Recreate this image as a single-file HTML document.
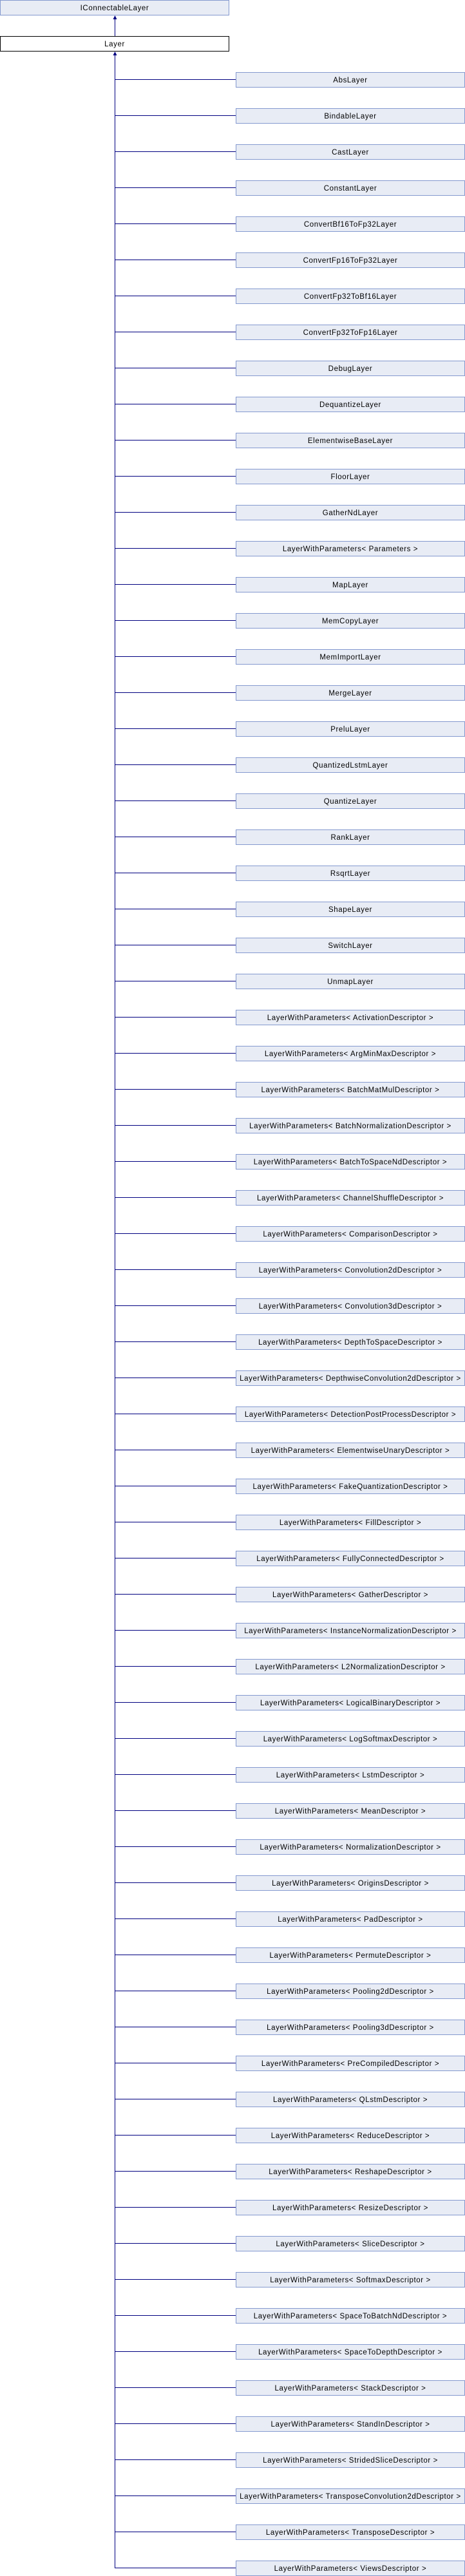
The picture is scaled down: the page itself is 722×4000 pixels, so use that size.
<!DOCTYPE html>
<html><head><meta charset="utf-8"><style>
html,body{margin:0;padding:0;background:#fff;width:722px;height:4000px;overflow:hidden}
svg{display:block}
.b{fill:#E8ECF5;stroke:#8499CF;stroke-width:1}
.l{stroke:#000080;stroke-width:1;fill:none}
text{font-family:"Liberation Sans",sans-serif;font-size:11.5px;letter-spacing:0.6px;text-anchor:middle;fill:#000}
</style></head><body>
<svg width="722" height="4000" xmlns="http://www.w3.org/2000/svg">
<rect class="b" x="0.5" y="0.5" width="355" height="23"/>
<text x="178" y="16">IConnectableLayer</text>
<line class="l" x1="178.5" y1="28" x2="178.5" y2="56"/>
<polygon points="178.5,24 175.5,30 181.5,30" fill="#000080"/>
<rect x="0.5" y="56.5" width="355" height="23" fill="#fff" stroke="#000"/>
<text x="178" y="72">Layer</text>
<line class="l" x1="178.5" y1="84" x2="178.5" y2="3988"/>
<polygon points="178.5,80 175.5,86 181.5,86" fill="#000080"/>
<g id="c"></g>
</svg>
<script>
var n=["AbsLayer","BindableLayer","CastLayer","ConstantLayer","ConvertBf16ToFp32Layer","ConvertFp16ToFp32Layer","ConvertFp32ToBf16Layer","ConvertFp32ToFp16Layer","DebugLayer","DequantizeLayer","ElementwiseBaseLayer","FloorLayer","GatherNdLayer","LayerWithParameters< Parameters >","MapLayer","MemCopyLayer","MemImportLayer","MergeLayer","PreluLayer","QuantizedLstmLayer","QuantizeLayer","RankLayer","RsqrtLayer","ShapeLayer","SwitchLayer","UnmapLayer"];
var d=["Activation","ArgMinMax","BatchMatMul","BatchNormalization","BatchToSpaceNd","ChannelShuffle","Comparison","Convolution2d","Convolution3d","DepthToSpace","DepthwiseConvolution2d","DetectionPostProcess","ElementwiseUnary","FakeQuantization","Fill","FullyConnected","Gather","InstanceNormalization","L2Normalization","LogicalBinary","LogSoftmax","Lstm","Mean","Normalization","Origins","Pad","Permute","Pooling2d","Pooling3d","PreCompiled","QLstm","Reduce","Reshape","Resize","Slice","Softmax","SpaceToBatchNd","SpaceToDepth","Stack","StandIn","StridedSlice","TransposeConvolution2d","Transpose","Views"];
d.forEach(function(x){n.push("LayerWithParameters< "+x+"Descriptor >");});
var g=document.getElementById("c"),ns="http://www.w3.org/2000/svg";
n.forEach(function(t,i){var y=112+56*i;
var L=document.createElementNS(ns,"line");L.setAttribute("class","l");L.setAttribute("x1","178");L.setAttribute("x2","366");L.setAttribute("y1",y+11.5);L.setAttribute("y2",y+11.5);g.appendChild(L);
var r=document.createElementNS(ns,"rect");r.setAttribute("class","b");r.setAttribute("x","366.5");r.setAttribute("y",y+0.5);r.setAttribute("width","355");r.setAttribute("height","23");g.appendChild(r);
var tx=document.createElementNS(ns,"text");tx.setAttribute("x","544");tx.setAttribute("y",y+16);tx.textContent=t;g.appendChild(tx);});
</script>
</body></html>
